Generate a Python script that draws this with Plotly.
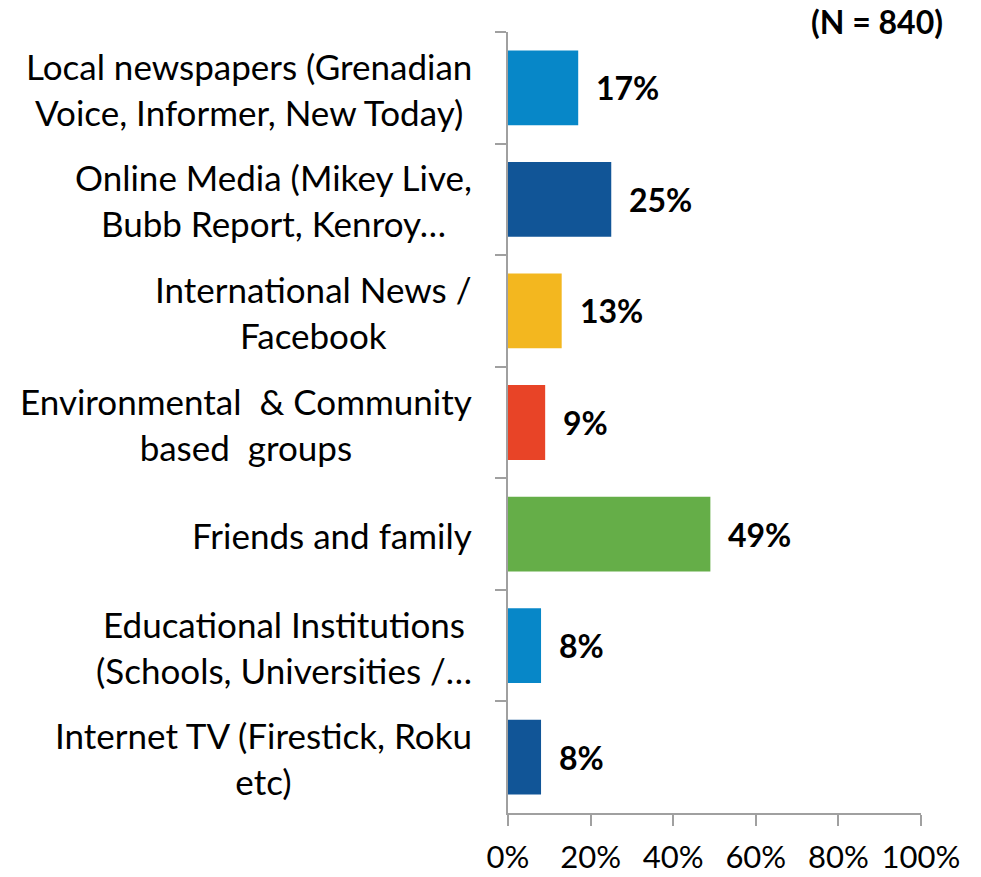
import plotly.graph_objects as go

categories = [
    "Local newspapers (Grenadian<br>Voice, Informer, New Today)",
    "Online Media (Mikey Live,<br>Bubb Report, Kenroy…",
    "International News /<br>Facebook",
    "Environmental  & Community<br>based  groups",
    "Friends and family",
    "Educational Institutions<br>(Schools, Universities /…",
    "Internet TV (Firestick, Roku<br>etc)",
]
values = [17, 25, 13, 9, 49, 8, 8]
bar_colors = ["#0787c8", "#115597", "#f3b71f", "#e84427", "#65ae48", "#0787c8", "#115597"]
x_ticks = [0, 20, 40, 60, 80, 100]
note = "(N = 840)"

FONT = "Lato"
W, H = 981, 877
ML, MR, MT, MB = 508, 60, 32, 64
PW = W - ML - MR

keys = [f"c{i}" for i in range(len(categories))]

fig = go.Figure()
fig.add_trace(go.Bar(
    x=values, y=keys, orientation="h",
    marker=dict(color=bar_colors, line=dict(width=0)),
    hoverinfo="skip",
))

annotations = []
for k, lab in zip(keys, categories):
    annotations.append(dict(
        x=(474 - ML) / PW, xref="paper", y=k, yref="y", yshift=-1,
        text=lab, showarrow=False, xanchor="right", yanchor="middle",
        align="center", font=dict(family=FONT, size=35, color="#000000"),
    ))
for k, v in zip(keys, values):
    annotations.append(dict(
        x=v, xref="x", y=k, yref="y", text=f"<b>{v}%</b>",
        showarrow=False, xanchor="left", yanchor="middle", xshift=16,
        font=dict(family=FONT, size=32, color="#000000"),
    ))
annotations.append(dict(
    x=(945 - ML) / PW, xref="paper", y=1 + (MT - 22) / (H - MT - MB), yref="paper",
    text=f"<b>{note}</b>", showarrow=False, xanchor="right", yanchor="middle",
    font=dict(family=FONT, size=32, color="#000000"),
))

fig.update_layout(
    width=W, height=H,
    margin=dict(l=ML, r=MR, t=MT, b=MB, autoexpand=False),
    paper_bgcolor="white", plot_bgcolor="white",
    bargap=0.33, showlegend=False,
    font=dict(family=FONT, color="#000000"),
    annotations=annotations,
    xaxis=dict(
        range=[0, 100], tickvals=x_ticks, ticktext=[f"{t}%" for t in x_ticks],
        showgrid=False, zeroline=False, showline=True, linecolor="#a0a0a0", linewidth=2,
        ticks="outside", ticklen=11, tickwidth=2, tickcolor="#a0a0a0",
        tickfont=dict(family=FONT, size=31, color="#000000"),
        ticklabelstandoff=5, automargin=False,
    ),
    yaxis=dict(
        type="category", autorange="reversed", showticklabels=False,
        showgrid=False, zeroline=False, showline=True, linecolor="#a0a0a0", linewidth=2,
        ticks="outside", ticklen=11, tickwidth=2, tickcolor="#a0a0a0",
        tickson="boundaries", automargin=False,
    ),
)

fig.write_html(
    "out.html",
    config={"displayModeBar": False, "staticPlot": True},
    post_script="document.body.style.margin='0';document.body.style.overflow='hidden';",
)
